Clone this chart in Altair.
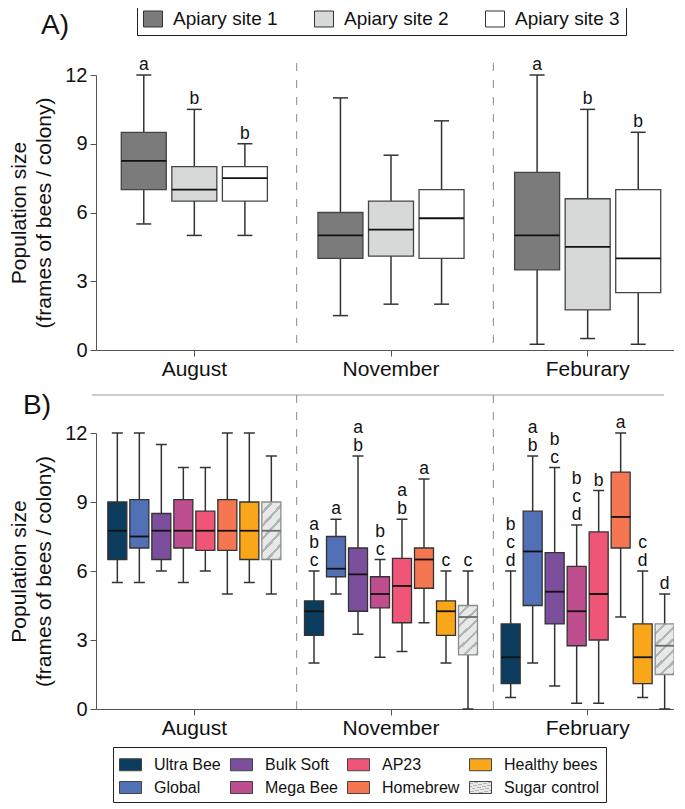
import altair as alt
import pandas as pd

FONT = "Liberation Sans"

# ---------------- Panel A data ----------------
months_a = ["August", "November", "Feburary"]
sites = ["Apiary site 1", "Apiary site 2", "Apiary site 3"]
site_colors = ["#7b7b7b", "#d7d9d9", "#ffffff"]
a_lower = [[5.5, 5.0, 5.0], [1.5, 2.0, 2.0], [0.25, 0.5, 0.25]]
a_q1 = [[7.0, 6.5, 6.5], [4.0, 4.1, 4.0], [3.5, 1.75, 2.5]]
a_median = [[8.25, 7.0, 7.5], [5.0, 5.25, 5.75], [5.0, 4.5, 4.0]]
a_q3 = [[9.5, 8.0, 8.0], [6.0, 6.5, 7.0], [7.75, 6.6, 7.0]]
a_upper = [[12.0, 10.5, 9.0], [11.0, 8.5, 10.0], [12.0, 10.5, 9.5]]
a_letters = [["a", "b", "b"], ["", "", ""], ["a", "b", "b"]]

# ---------------- Panel B data ----------------
months_b = ["August", "November", "February"]
treatments = ["Ultra Bee", "Global", "Bulk Soft", "Mega Bee", "AP23",
              "Homebrew", "Healthy bees", "Sugar control"]
b_lower = [[5.5, 5.5, 6.0, 5.5, 6.0, 5.0, 5.5, 5.0],
           [2.0, 5.0, 3.25, 2.25, 2.5, 3.75, 2.0, 0.0],
           [0.5, 2.0, 1.0, 0.25, 0.25, 4.0, 0.5, 0.0]]
b_q1 = [[6.5, 7.0, 6.5, 7.0, 6.9, 6.9, 6.5, 6.5],
        [3.2, 5.75, 4.25, 4.4, 3.75, 5.25, 3.2, 2.35],
        [1.1, 4.5, 3.7, 2.75, 3.0, 7.0, 1.1, 1.5]]
b_median = [[7.75, 7.5, 7.75, 7.75, 7.75, 7.75, 7.75, 7.75],
            [4.25, 6.1, 5.85, 5.0, 5.35, 6.5, 4.25, 4.0],
            [2.25, 6.85, 5.1, 4.25, 5.0, 8.35, 2.25, 2.75]]
b_q3 = [[9.0, 9.1, 8.5, 9.1, 8.6, 9.1, 9.0, 9.0],
        [4.7, 7.5, 7.0, 5.75, 6.55, 7.0, 4.7, 4.5],
        [3.7, 8.6, 6.8, 6.2, 7.7, 10.3, 3.7, 3.7]]
b_upper = [[12.0, 12.0, 11.5, 10.5, 10.5, 12.0, 12.0, 11.0],
           [6.0, 8.25, 11.0, 6.5, 8.25, 10.0, 6.0, 6.0],
           [6.0, 11.0, 10.5, 8.0, 9.5, 12.0, 6.0, 5.0]]
b_letters = [["", "", "", "", "", "", "", ""],
             ["abc", "a", "ab", "bc", "ab", "a", "c", "c"],
             ["bcd", "ab", "bc", "bcd", "b", "a", "cd", "d"]]

# legend order (column-major look in a 4-column legend)
legend_order = ["Ultra Bee", "Bulk Soft", "AP23", "Healthy bees",
                "Global", "Mega Bee", "Homebrew", "Sugar control"]
treat_colors = {"Ultra Bee": "#0b3c5d", "Global": "#5170b6", "Bulk Soft": "#7b4f9c",
                "Mega Bee": "#bf4e8f", "AP23": "#ef5577", "Homebrew": "#f47752",
                "Healthy bees": "#f9a61b"}

# hatched fill for the sugar control (striped linear gradient)
N_STRIPES = 6
BG, ST = "#e7e9e9", "#b3b6b6"
stops = []
for k in range(N_STRIPES):
    a = k / N_STRIPES
    b = (k + 0.72) / N_STRIPES
    c = (k + 1) / N_STRIPES
    stops += [(a, BG), (b, BG), (b, ST), (c, ST)]
stop_str = ", ".join("{offset: %.4f, color: '%s'}" % (o, col) for o, col in stops)
grad_expr = "{gradient: 'linear', x1: 0, y1: 0, x2: 0.432, y2: 1.204, stops: [%s]}" % stop_str

treat_range = [treat_colors[t] if t != "Sugar control" else {"expr": grad_expr}
               for t in legend_order]

Y_TITLE = ["Population size", "(frames of bees / colony)"]


def build_df(months, groups, lo, q1, med, q3, up, let):
    rows = []
    for i, m in enumerate(months):
        for j, g in enumerate(groups):
            rev = let[i][j][::-1]  # letters stacked from the bottom up
            rows.append({"month": m, "group": g, "lower": lo[i][j], "q1": q1[i][j],
                         "median": med[i][j], "q3": q3[i][j], "upper": up[i][j],
                         "l0": rev[0] if len(rev) > 0 else "",
                         "l1": rev[1] if len(rev) > 1 else "",
                         "l2": rev[2] if len(rev) > 2 else ""})
    return pd.DataFrame(rows)


df_a = build_df(months_a, sites, a_lower, a_q1, a_median, a_q3, a_upper, a_letters)
df_b = build_df(months_b, treatments, b_lower, b_q1, b_median, b_q3, b_upper, b_letters)


def x_enc(months, band_pos=None):
    kw = {}
    if band_pos is not None:
        kw["bandPosition"] = band_pos
    return alt.X("month:N", sort=months,
                 scale=alt.Scale(domain=months, paddingInner=0, paddingOuter=0),
                 axis=alt.Axis(title=None, labelAngle=0, labelFont=FONT, labelFontSize=21,
                               labelColor="#111", labelPadding=2, tickSize=6,
                               tickColor="#555", domainColor="#555", grid=False),
                 **kw)


def y_enc(field):
    return alt.Y(field + ":Q", scale=alt.Scale(domain=[0, 12], nice=False, zero=True),
                 axis=alt.Axis(values=[0, 3, 6, 9, 12], title=Y_TITLE, titleFont=FONT,
                               titleFontSize=21, titleFontWeight="normal", titleColor="#111",
                               titlePadding=10, titleLineHeight=25, labelFont=FONT,
                               labelFontSize=20, labelColor="#111", labelPadding=3,
                               tickSize=6, tickColor="#555", domainColor="#555", grid=False))


def panel(df, months, groups, width, height, pad_inner, pad_outer, color_enc,
          cap_size, box_size, sugar, dash_top, label, label_x, label_y, top_rule):
    xo = alt.XOffset("group:N", sort=groups,
                     scale=alt.Scale(domain=groups, paddingInner=pad_inner, paddingOuter=pad_outer))
    x = x_enc(months)
    sep_df = pd.DataFrame({"month": months[:2]})
    sep = alt.Chart(sep_df).mark_rule(strokeDash=[8, 9], color="#8a8a8a", strokeWidth=1,
                                      xOffset=4).encode(
        x=x_enc(months, 1), y=alt.value(dash_top), y2=alt.value(height))
    if sugar:
        stroke_c = alt.condition(alt.datum.group == "Sugar control", alt.value("#8c8c8c"), alt.value("#333333"))
        med_c = alt.condition(alt.datum.group == "Sugar control", alt.value("#6a6a6a"), alt.value("#111111"))
    else:
        stroke_c = alt.value("#444444")
        med_c = alt.value("#111111")
    base = alt.Chart(df)
    whisk = base.mark_rule(color="#333333", strokeWidth=1.5).encode(
        x=x, xOffset=xo, y=y_enc("lower"), y2="upper:Q")
    box = base.mark_bar(strokeWidth=1.3, opacity=1).encode(
        x=x, xOffset=xo, y=y_enc("q1"), y2="q3:Q", color=color_enc, stroke=stroke_c)
    med = base.mark_tick(orient="horizontal", size=box_size, thickness=1.8, opacity=1).encode(
        x=x, xOffset=xo, y=y_enc("median"), color=med_c)
    lowcap = base.mark_tick(orient="horizontal", size=cap_size, thickness=1.5, opacity=1,
                            color="#333333").encode(x=x, xOffset=xo, y=y_enc("lower"))
    upcap = base.mark_tick(orient="horizontal", size=cap_size, thickness=1.5, opacity=1,
                           color="#333333").encode(x=x, xOffset=xo, y=y_enc("upper"))
    letter_layers = []
    for lvl in range(3):
        letter_layers.append(
            base.mark_text(baseline="alphabetic", dy=-5 - 18 * lvl, fontSize=17.5, font=FONT,
                           color="#111111").encode(
                x=x, xOffset=xo, y=y_enc("upper"), text="l%d:N" % lvl))
    lab = alt.Chart(pd.DataFrame({"t": [label]})).mark_text(
        align="left", baseline="middle", fontSize=28, font=FONT, color="#111111").encode(
        text="t:N", x=alt.value(label_x), y=alt.value(label_y))
    layers = [sep, whisk, box, med, lowcap, upcap] + letter_layers + [lab]
    if top_rule:
        tr = alt.Chart(pd.DataFrame({"t": [0]})).mark_rule(color="#9a9a9a", strokeWidth=1.2).encode(
            x=alt.value(-4), x2=alt.value(568), y=alt.value(dash_top))
        layers.append(tr)
    return alt.layer(*layers).properties(width=width, height=height)


color_a = alt.Color("group:N", scale=alt.Scale(domain=sites, range=site_colors),
                    legend=alt.Legend(title=None, orient="none", legendX=41, legendY=-72,
                                      direction="horizontal", columns=3, columnPadding=34,
                                      symbolType="M-1,-0.842L1,-0.842L1,0.842L-1,0.842Z",
                                      symbolSize=361, symbolStrokeColor="#333333",
                                      symbolStrokeWidth=1, symbolOpacity=1,
                                      labelFont=FONT, labelFontSize=19, labelColor="#111111",
                                      labelOffset=10, labelLimit=0, padding=6,
                                      strokeColor="#222222"))
color_b = alt.Color("group:N", scale=alt.Scale(domain=legend_order, range=treat_range),
                    legend=alt.Legend(title=None, orient="none", legendX=17, legendY=314,
                                      direction="horizontal", columns=4, columnPadding=7,
                                      rowPadding=3,
                                      symbolType="M-1,-0.545L1,-0.545L1,0.545L-1,0.545Z",
                                      symbolSize=484, symbolStrokeColor="#444444",
                                      symbolStrokeWidth=1, symbolOpacity=1,
                                      labelFont=FONT, labelFontSize=16, labelColor="#111111",
                                      labelOffset=12, labelLimit=0, padding=6,
                                      strokeColor="#222222"))

panel_a = panel(df_a, months_a, sites, 590, 275, 0.11, 0.5, color_a, 15, 45, False,
                -12, "A)", -55, -49, False)
panel_b = panel(df_b, months_b, treatments, 590, 276, 0.136, 0.538, color_b, 11, 19, True,
                -38, "B)", -73, -27, True)

chart = alt.vconcat(panel_a, panel_b, spacing=83, bounds="flush",
                    padding={"left": 0, "top": -6, "right": -12, "bottom": 0}).resolve_scale(
    x="independent", y="independent", color="independent", xOffset="independent"
).configure_view(stroke=None)

chart.save("out.html", embed_options={"renderer": "svg", "actions": False})
